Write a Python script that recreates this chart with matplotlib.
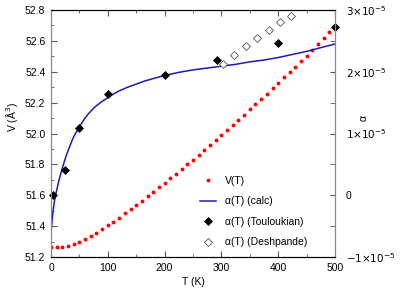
import matplotlib
matplotlib.use('Agg')
import matplotlib.pyplot as plt
from matplotlib.ticker import MultipleLocator, FixedLocator

plt.rcParams['font.family'] = ['Liberation Sans', 'DejaVu Sans']
plt.rcParams['font.size'] = 7.5

# V(T) computed volume, every 10 K
T_v = list(range(0, 510, 10))
V = [51.265, 51.265, 51.267, 51.273, 51.286, 51.299, 51.317, 51.336, 51.357, 51.379,
     51.405, 51.429, 51.455, 51.483, 51.509, 51.537, 51.565, 51.593, 51.621, 51.651,
     51.679, 51.710, 51.740, 51.770, 51.800, 51.830, 51.863, 51.895, 51.926, 51.958,
     51.988, 52.021, 52.053, 52.085, 52.122, 52.157, 52.191, 52.224, 52.258, 52.293,
     52.327, 52.364, 52.398, 52.433, 52.470, 52.504, 52.543, 52.580, 52.619, 52.656,
     52.692]

# alpha(T) calc (units of 1e-5)
T_calc = [0, 1, 2, 3, 4, 5, 6, 8, 10, 12, 14, 16, 18, 20, 23, 26, 30, 35, 40, 45, 50,
          55, 60, 65, 70, 75, 80, 90, 100, 110, 120, 135, 150, 165, 180, 200, 225, 250,
          275, 300, 325, 350, 375, 400, 425, 450, 475, 500]
a_calc = [-0.62, -0.50, -0.40, -0.31, -0.23, -0.16, -0.10, 0.00, 0.08, 0.16, 0.24,
          0.31, 0.38, 0.44, 0.53, 0.62, 0.72, 0.84, 0.95, 1.03, 1.11, 1.18, 1.25,
          1.31, 1.36, 1.41, 1.45, 1.52, 1.58, 1.64, 1.69, 1.75, 1.80, 1.85, 1.89,
          1.94, 1.99, 2.03, 2.06, 2.09, 2.12, 2.16, 2.19, 2.23, 2.28, 2.33, 2.39, 2.45]

# Touloukian
T_tou = [4, 25, 50, 100, 200, 293, 400, 500]
a_tou = [0.00, 0.41, 1.09, 1.64, 1.95, 2.19, 2.47, 2.72]

# Deshpande
T_des = [303, 323, 343, 363, 383, 403, 423]
a_des = [2.13, 2.27, 2.41, 2.54, 2.67, 2.80, 2.91]

scale = 1e-5

fig = plt.figure(figsize=(4.15, 2.91), dpi=100)
ax = fig.add_axes([51 / 415, 1 - 257 / 291, 284 / 415, 247 / 291])
ax2 = ax.twinx()

ax.plot(T_v, V, 'o', color='#ff0000', markersize=2.8, markeredgewidth=0, label='V(T)')
ax2.plot(T_calc, [a * scale for a in a_calc], '-', color='#1c1cb4', lw=1.1, label=r'α(T) (calc)')
ax2.plot(T_tou, [a * scale for a in a_tou], 'D', color='black', markersize=4.5,
         markeredgewidth=0.5, clip_on=False, label=r'α(T) (Touloukian)')
ax2.plot(T_des, [a * scale for a in a_des], 'D', markerfacecolor='white',
         markeredgecolor='#555555', markersize=4.3, markeredgewidth=0.6,
         label=r'α(T) (Deshpande)')

ax.set_xlim(0, 500)
ax.set_ylim(51.2, 52.8)
ax2.set_ylim(-1e-5, 3e-5)

ax.xaxis.set_major_locator(MultipleLocator(100))
ax.xaxis.set_minor_locator(MultipleLocator(50))
ax.yaxis.set_major_locator(MultipleLocator(0.2))
ax.yaxis.set_minor_locator(MultipleLocator(0.1))
ax.yaxis.set_major_formatter(matplotlib.ticker.FormatStrFormatter('%.1f'))

ax2.yaxis.set_major_locator(FixedLocator([-1e-5, 0, 1e-5, 2e-5, 3e-5]))
ax2.yaxis.set_minor_locator(MultipleLocator(0.5e-5))
ax2.set_yticklabels([r'$-1{\times}10^{-5}$', '0', r'$1{\times}10^{-5}$',
                     r'$2{\times}10^{-5}$', r'$3{\times}10^{-5}$'])

ax.tick_params(which='both', direction='in', top=True, right=False, colors='#555555',
               labelcolor='black', pad=4)
ax.tick_params(which='major', length=4)
ax.tick_params(which='minor', length=2.5)
ax2.tick_params(which='both', direction='in', length=3.5, colors='#555555',
                labelcolor='black', pad=8)

for a in (ax, ax2):
    a.spines['left'].set_color('#888888')
    a.spines['right'].set_color('#888888')
    a.spines['top'].set_color('black')
    a.spines['bottom'].set_color('black')

ax.set_xlabel('T (K)', labelpad=3)
fig.text(12 / 415, 1 - 117 / 291, 'V (Å$^3$)', rotation=90, ha='center', va='center')
fig.text(364 / 415, 1 - 118 / 291, 'α', rotation=90, ha='center', va='center')

h1, l1 = ax.get_legend_handles_labels()
h2, l2 = ax2.get_legend_handles_labels()
ax2.legend(h1 + h2, l1 + l2, loc='upper left', bbox_to_anchor=(200 / 415, 1 - 176 / 291),
           bbox_transform=fig.transFigure, frameon=False, numpoints=1,
           handlelength=1.5, handletextpad=0.9, labelspacing=1.0,
           borderaxespad=0, borderpad=0, fontsize=7.5)

fig.savefig('out.png', dpi=100)
